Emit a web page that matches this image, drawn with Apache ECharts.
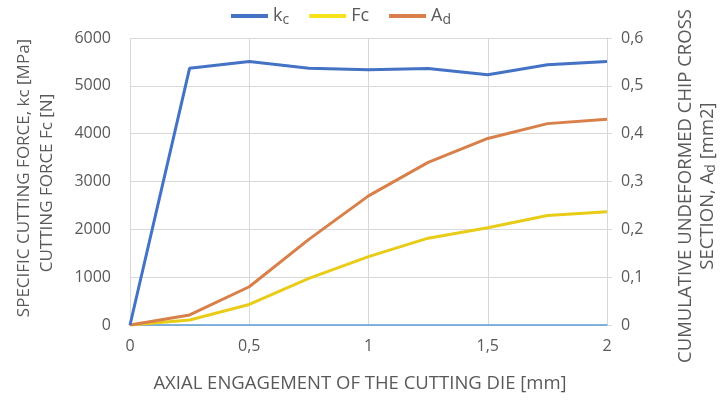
<!DOCTYPE html>
<html><head><meta charset="utf-8">
<script src="https://cdn.jsdelivr.net/npm/echarts@6/dist/echarts.min.js"></script>
<style>html,body{margin:0;padding:0;background:#fff}#c{width:721px;height:401px}</style>
</head><body><div id="c"></div>
<script>
const xValues = [0, 0.25, 0.5, 0.75, 1, 1.25, 1.5, 1.75, 2];
const kc = [0, 5370, 5510, 5370, 5335, 5360, 5230, 5440, 5510];
const Fc = [0, 105, 430, 975, 1430, 1815, 2035, 2290, 2370];
const Ad = [0, 0.021, 0.080, 0.179, 0.270, 0.340, 0.390, 0.421, 0.430];
const leftTicks = [0, 1000, 2000, 3000, 4000, 5000, 6000];
const rightTicks = ['0', '0,1', '0,2', '0,3', '0,4', '0,5', '0,6'];
const xTicks = ['0', '0,5', '1', '1,5', '2'];

const FONT = '"Open Sans", "DejaVu Sans", sans-serif';
const TXT = '#595959';
const pairs = arr => xValues.map((x, i) => [x, arr[i]]);

const chart = echarts.init(document.getElementById('c'), null, {renderer: 'canvas'});
chart.setOption({
  animation: false,
  textStyle: {fontFamily: FONT, color: TXT},
  grid: {left: 130, right: 114, top: 38, bottom: 76},
  legend: {
    top: 2, left: 226, itemWidth: 37, itemHeight: 4, itemGap: 20,
    icon: 'rect',
    data: ['kc', 'Fc', 'Ad'],
    formatter: n => n === 'kc' ? '{a|k}{s|c}' : n === 'Ad' ? '{a|A}{s|d}' : '{a|Fc}',
    textStyle: {color: TXT, fontFamily: FONT, rich: {
      a: {fontSize: 18, color: TXT, fontFamily: FONT},
      s: {fontSize: 14, color: TXT, fontFamily: FONT, padding: [9, 0, 0, 0]}
    }}
  },
  xAxis: {
    type: 'value', min: 0, max: 2, interval: 0.5,
    axisLine: {show: true, lineStyle: {color: '#5b9bd5', width: 1.5}},
    axisTick: {show: false},
    splitLine: {show: true, lineStyle: {color: '#d9d9d9'}},
    axisLabel: {color: TXT, fontSize: 16, margin: 13, fontFamily: FONT,
      formatter: v => xTicks[Math.round(v / 0.5)]}
  },
  yAxis: [{
    type: 'value', min: 0, max: 6000, interval: 1000,
    axisLine: {show: false}, axisTick: {show: false},
    splitLine: {show: true, lineStyle: {color: '#d9d9d9'}},
    axisLabel: {color: TXT, fontSize: 16, margin: 19, fontFamily: FONT,
      formatter: v => String(leftTicks[Math.round(v / 1000)])}
  }, {
    type: 'value', min: 0, max: 0.6, interval: 0.1,
    axisLine: {show: true, lineStyle: {color: '#d9d9d9'}},
    axisTick: {show: true, length: 5, lineStyle: {color: '#d9d9d9'}},
    splitLine: {show: false},
    axisLabel: {color: TXT, fontSize: 16, margin: 14, fontFamily: FONT,
      formatter: v => rightTicks[Math.round(v * 10)]}
  }],
  series: [
    {name: 'kc', type: 'line', data: pairs(kc), yAxisIndex: 0, showSymbol: false,
      lineStyle: {color: '#4472c4', width: 3}, itemStyle: {color: '#4472c4'}, z: 3},
    {name: 'Fc', type: 'line', data: pairs(Fc), yAxisIndex: 0, showSymbol: false,
      lineStyle: {color: '#e8cc18', width: 3}, itemStyle: {color: '#f5e11c'}, z: 2},
    {name: 'Ad', type: 'line', data: pairs(Ad), yAxisIndex: 1, showSymbol: false,
      lineStyle: {color: '#d9804a', width: 3}, itemStyle: {color: '#d9804a'}, z: 2}
  ],
  graphic: [
    {type: 'text', x: 24, y: 178, rotation: Math.PI / 2,
      style: {text: 'SPECIFIC CUTTING FORCE, kc [MPa]', fontSize: 17, fontFamily: FONT, fill: TXT, align: 'center', verticalAlign: 'middle'}},
    {type: 'text', x: 47, y: 183, rotation: Math.PI / 2,
      style: {text: 'CUTTING FORCE Fc [N]', fontSize: 17, fontFamily: FONT, fill: TXT, align: 'center', verticalAlign: 'middle'}},
    {type: 'text', x: 686, y: 186, rotation: Math.PI / 2,
      style: {text: 'CUMULATIVE UNDEFORMED CHIP CROSS', fontSize: 18.5, fontFamily: FONT, fill: TXT, align: 'center', verticalAlign: 'middle'}},
    {type: 'text', x: 708, y: 186, rotation: Math.PI / 2,
      style: {text: '{a|SECTION, A}{s|d}{a| [mm2]}', fontSize: 18.5, fontFamily: FONT, fill: TXT, align: 'center', verticalAlign: 'middle',
        rich: {a: {fontSize: 18.5, fontFamily: FONT, fill: TXT}, s: {fontSize: 14, fontFamily: FONT, fill: TXT, padding: [7, 0, 0, 0]}}}},
    {type: 'text', x: 360, y: 384,
      style: {text: 'AXIAL ENGAGEMENT OF THE CUTTING DIE [mm]', fontSize: 18.5, fontFamily: FONT, fill: TXT, align: 'center', verticalAlign: 'middle'}}
  ]
});
</script></body></html>
